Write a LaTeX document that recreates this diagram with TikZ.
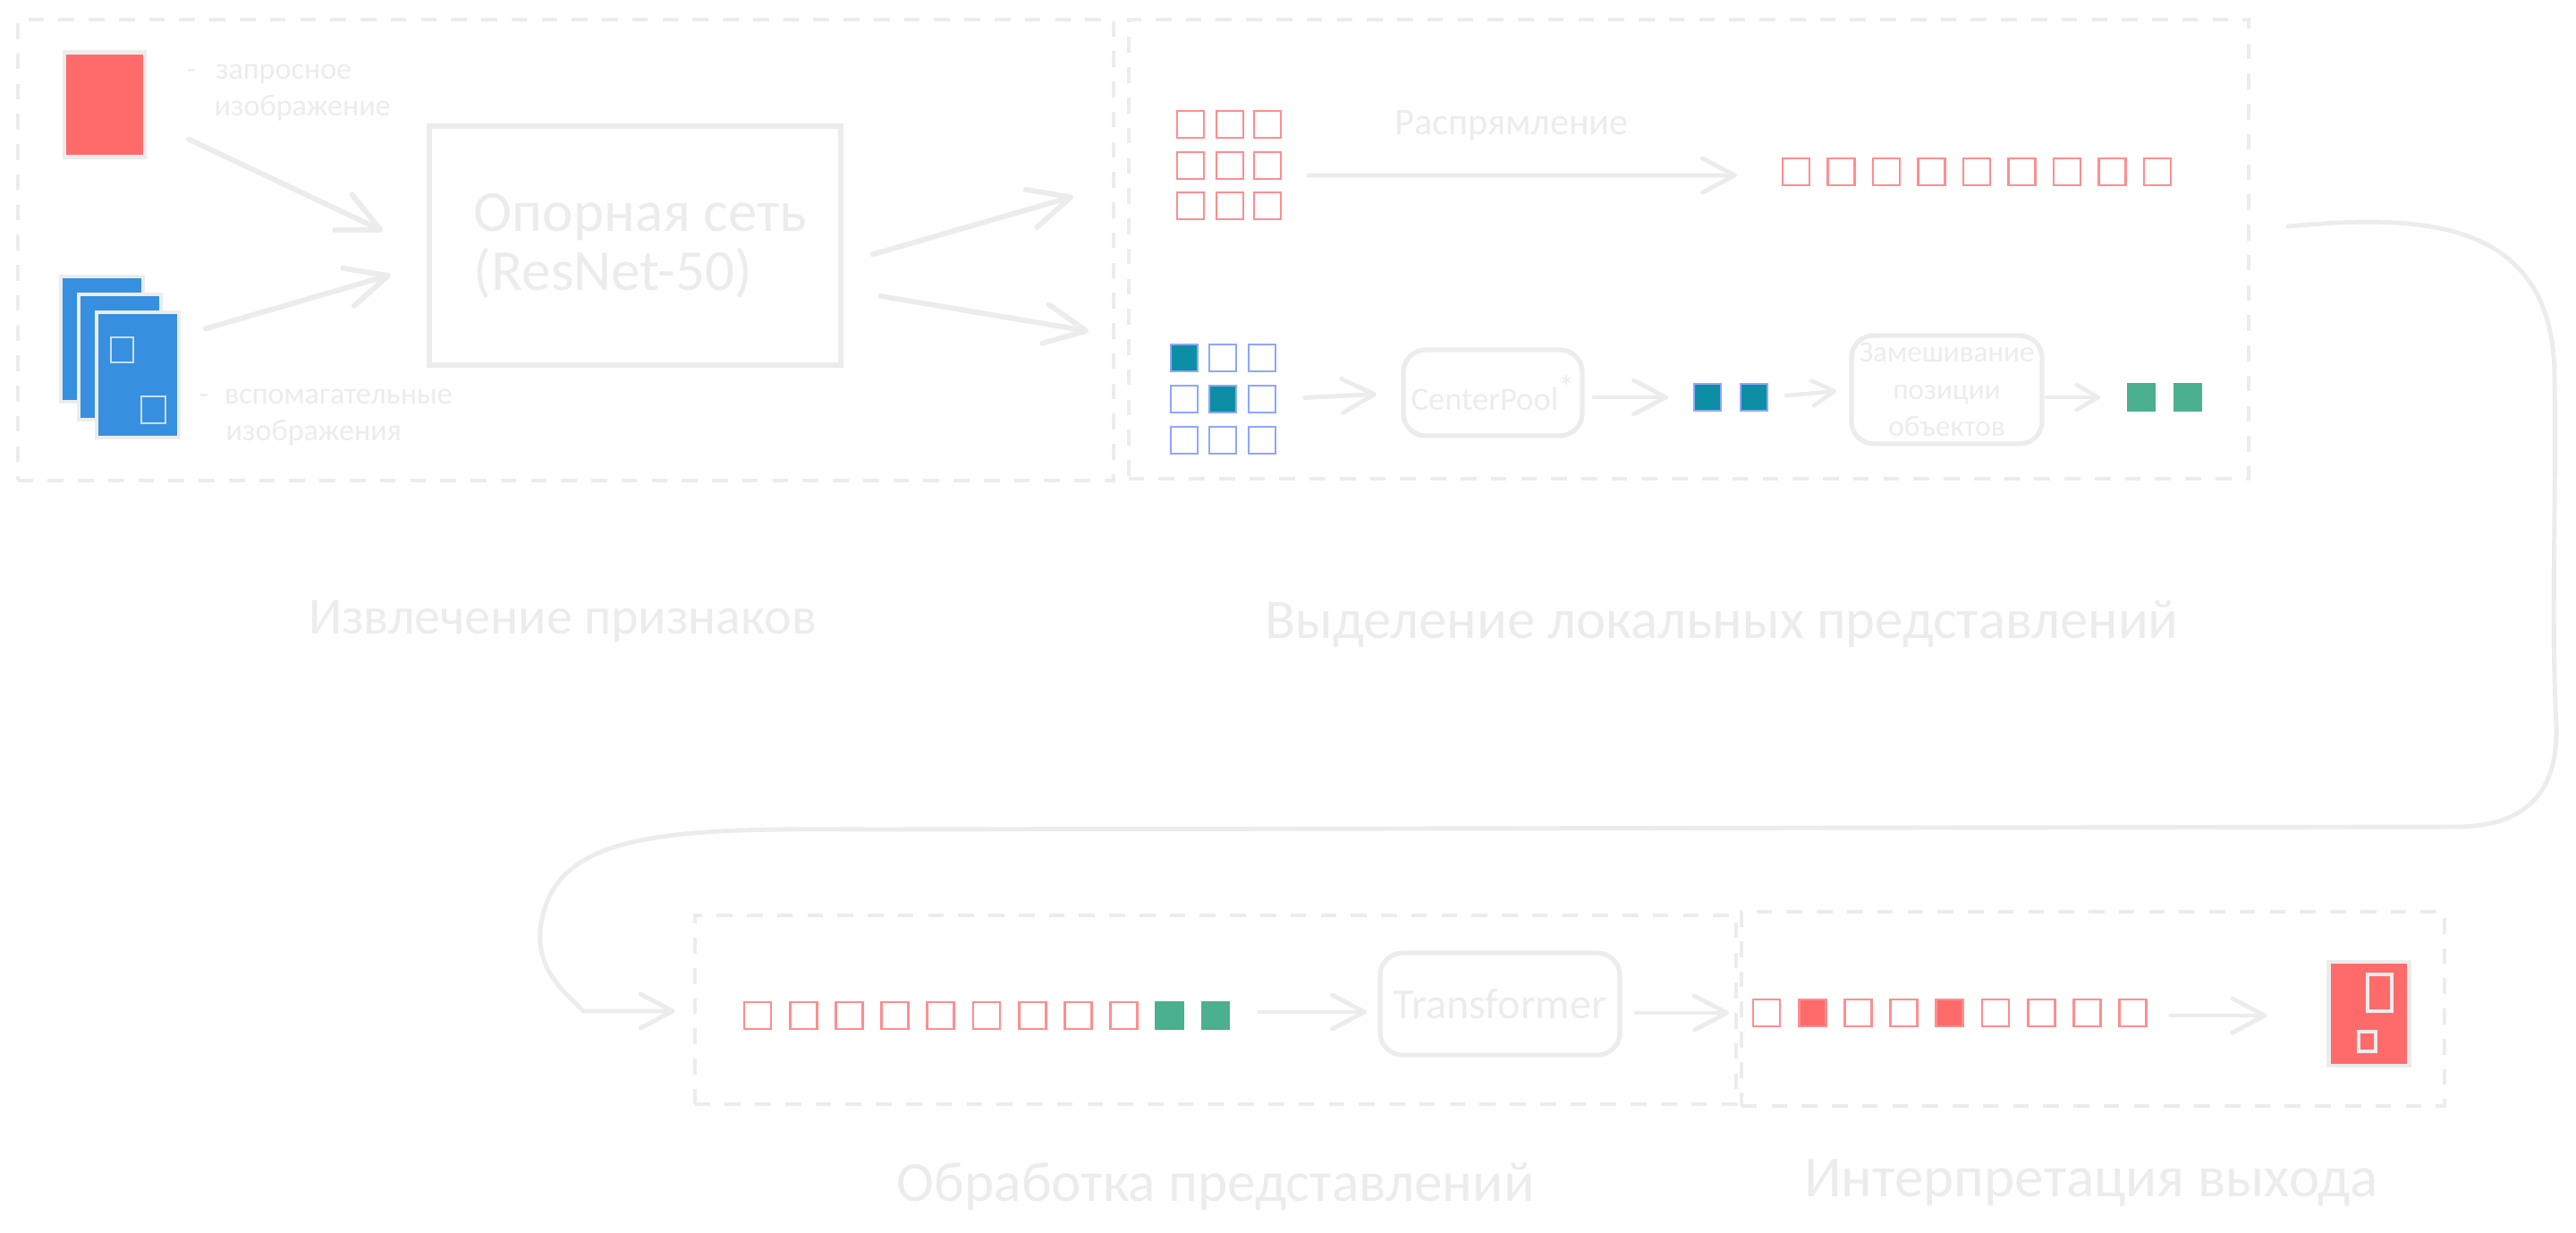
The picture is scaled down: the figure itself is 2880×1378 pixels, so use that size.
\documentclass[tikz,border=0pt]{standalone}
\usepackage{fontspec}
\setmainfont{Carlito}
\usepackage{tikz}
\usetikzlibrary{arrows.meta,calc,positioning}
\definecolor{sketch}{HTML}{ECECEC}
\definecolor{coralfill}{HTML}{FF6B6B}
\definecolor{coralline}{HTML}{FF8E8E}
\definecolor{skyfill}{HTML}{378FDF}
\definecolor{periline}{HTML}{8FA6FF}
\definecolor{tealfill}{HTML}{0C8FA5}
\definecolor{jade}{HTML}{4AB08F}
\definecolor{glass}{HTML}{C9DDF2}
\tikzset{
  stagebox/.style={draw=sketch, line width=1.1pt, dash pattern=on 5pt off 4.6pt,
    inner sep=0pt, outer sep=0pt},
  flowbox/.style={draw=sketch, line width=1.5pt, rounded corners=2.5mm, text=sketch,
    align=center, inner sep=0pt, outer sep=0pt},
  imagebox/.style={draw=sketch, line width=1.2pt, inner sep=0pt, outer sep=0pt},
  querybox/.style={imagebox, fill=coralfill, minimum width=9mm, minimum height=11.7mm},
  cardbox/.style={imagebox, fill=skyfill, minimum width=9.2mm, minimum height=14mm},
  cellbox/.style={line width=0.8pt, inner sep=0pt, outer sep=0pt,
    minimum width=3mm, minimum height=3mm},
  patchcell/.style={cellbox, draw=coralline},
  hitcell/.style={cellbox, draw=coralline, fill=coralfill},
  kernelcell/.style={cellbox, draw=periline},
  centercell/.style={cellbox, draw=periline, fill=tealfill},
  jadecell/.style={cellbox, draw=jade, fill=jade},
  flowarrow/.style={-{Straight Barb[length=3.6mm, width=3.8mm, round]}, draw=sketch,
    line width=1.4pt, line cap=round},
  bigarrow/.style={-{Straight Barb[length=4.6mm, width=4.4mm, round]}, draw=sketch,
    line width=1.7pt, line cap=round},
  smallarrow/.style={-{Straight Barb[length=2.4mm, width=2.8mm, round]}, draw=sketch,
    line width=1.3pt, line cap=round},
  titlenote/.style={text=sketch, inner sep=0pt},
  smallnote/.style={text=sketch, align=left, inner sep=0pt,
    font=\fontsize{9.7}{11.7}\selectfont}
}
\begin{document}
\begin{tikzpicture}[x=0.01cm, y=-0.01cm]
  \useasboundingbox (0,0) rectangle (2880,1378);
  % stages
  \node[stagebox, minimum width=122.5mm, minimum height=51.5mm] (featframe) at (632.5,279.5) {};
  \node[stagebox, minimum width=125.2mm, minimum height=51.3mm] (localframe) at (1888,278.5) {};
  \node[stagebox, minimum width=116.4mm, minimum height=21.1mm] (procframe) at (1359,1128.5) {};
  \node[stagebox, minimum width=78.6mm, minimum height=21.7mm] (interpframe) at (2340,1127.5) {};
  \node[titlenote, font=\fontsize{16.5}{20}\selectfont] (feattitle) at (629,695) {Извлечение признаков};
  \node[titlenote, font=\fontsize{17.8}{20}\selectfont] (localtitle) at (1925,697) {Выделение локальных представлений};
  \node[titlenote, font=\fontsize{18}{20}\selectfont] (proctitle) at (1359,1326) {Обработка представлений};
  \node[titlenote, font=\fontsize{18.5}{20}\selectfont] (interptitle) at (2338,1322) {Интерпретация выхода};

  % input images and backbone
  \node[querybox] (query) at (117,117) {};
  \node[cardbox] (carda) at (114,379) {};
  \node[cardbox] (cardb) at (134,399) {};
  \node[cardbox] (cardc) at (154,419) {};
  \node[draw=glass, line width=0.7pt, minimum width=2.5mm, minimum height=2.8mm, inner sep=0pt]
    (cardboxa) at (136.5,391) {};
  \node[draw=glass, line width=0.7pt, minimum width=2.7mm, minimum height=3mm, inner sep=0pt]
    (cardboxb) at (171.5,458) {};
  \node[smallnote, anchor=north west] (querynote) at (208,71) {-\hspace{2.2mm}запросное\\\hspace{3.1mm}изображение};
  \node[smallnote, anchor=north west] (auxnote) at (222,434) {-\hspace{1.8mm}вспомагательные\\\hspace{3mm}изображения};
  \node[flowbox, rounded corners=0pt, minimum width=46mm, minimum height=26.7mm, align=left,
    line width=1.6pt, font=\fontsize{18.5}{18.8}\selectfont] (backbone) at (710,274.5) {\hspace{1.2mm}Опорная сеть\\\hspace{1.2mm}(ResNet-50)};
  \draw[bigarrow, shorten <=5.4mm, shorten >=5.7mm] (query.-19.6) -- (backbone.182);
  \draw[bigarrow, shorten <=3.1mm, shorten >=4.5mm] (cardc.43.5) -- (backbone.185.8);
  \draw[bigarrow, shorten <=3.7mm, shorten >=6.4mm] (backbone.-5) -- (localframe.173.44);
  \draw[bigarrow, shorten <=4.5mm, shorten >=4.5mm] (backbone.-12.2) -- (localframe.189.7);

  % flatten branch
  \foreach \row/\y in {1/139,2/185,3/230}
    \foreach \col/\x in {1/1331,2/1375,3/1417}
      \node[patchcell] (patch-\row-\col) at (\x,\y) {};
  \foreach \i in {1,...,9}
    \node[patchcell] (flat-\i) at ({2008+50.5*(\i-1)},192) {};
  \node[text=sketch, font=\fontsize{12}{15}\selectfont, inner sep=0pt] (flatnote) at (1690,140) {Распрямление};
  \draw[flowarrow, shorten <=3.1mm, shorten >=5.1mm] ([yshift=-1.1mm]patch-2-3.east) -- ([yshift=-0.4mm]flat-1.west);

  % center branch
  \foreach \row/\y in {1/400,2/446,3/492}
    \foreach \col/\x in {1/1324,2/1367,3/1411}
      \node[kernelcell] (kernel-\row-\col) at (\x,\y) {};
  \node[centercell] (hita) at (kernel-1-1) {};
  \node[centercell] (hitb) at (kernel-2-2) {};
  \node[flowbox, minimum width=20mm, minimum height=9.6mm,
    font=\fontsize{10.4}{12}\selectfont] (centerpool) at (1669,439) {CenterPool\raisebox{0.35em}{*}};
  \node[centercell] (poola) at (1909,444) {};
  \node[centercell, right=2.2mm of poola] (poolb) {};
  \node[flowbox, minimum width=21.3mm, minimum height=12.1mm,
    font=\fontsize{9.4}{11.7}\selectfont] (mixer) at (2176.5,435.5) {Замешивание\\позиции\\объектов};
  \node[jadecell] (posa) at (2394,444) {};
  \node[jadecell, right=2.2mm of posa] (posb) {};
  \draw[flowarrow, shorten <=3.3mm, shorten >=3mm] (kernel-2-3.east) -- (centerpool.west);
  \draw[flowarrow, shorten <=1.3mm, shorten >=2.9mm] (centerpool.east |- poola.west) -- (poola.west);
  \draw[smallarrow, shorten <=2.1mm, shorten >=1.7mm] (poolb.east) -- (mixer.west);
  \draw[smallarrow, shorten <=0.5mm, shorten >=3.1mm] (mixer.east |- posa.west) -- (posa.west);

  % link between rows
  \coordinate (turna) at (2856,422);
  \coordinate (turnb) at (2745,924);
  \coordinate (turnc) at (974,927);
  \coordinate (turnd) at (652,1130);
  \draw[flowarrow, shorten <=4.4mm, shorten >=2.2mm] ([yshift=2.15mm]localframe.east)
    .. controls (2700,240) and (2856,240) .. (turna)
    .. controls (2858,560) and (2852,700) .. (2858,810)
    .. controls (2860,880) and (2830,924) .. (turnb)
    -- (turnc)
    .. controls (740,925) and (615,930) .. (604,1040)
    .. controls (600,1090) and (640,1115) .. (turnd)
    -- (procframe.west |- turnd);

  % output
  \foreach \i/\look in {1/patchcell,2/hitcell,3/patchcell,4/patchcell,5/hitcell,6/patchcell,7/patchcell,8/patchcell,9/patchcell}
    \node[\look] (out-\i) at ({1975+51.2*(\i-1)},1132) {};
  \node[querybox, minimum height=11.6mm] (result) at (2648.5,1133) {};
  \node[draw=sketch, line width=0.9pt, minimum width=2.7mm, minimum height=4.1mm, inner sep=0pt]
    (resulta) at (2660.5,1109.5) {};
  \node[draw=sketch, line width=0.9pt, minimum width=1.9mm, minimum height=2.2mm, inner sep=0pt]
    (resultb) at (2646.5,1164) {};
  \draw[flowarrow, shorten <=2.7mm, shorten >=6.9mm] ([yshift=-0.3mm]out-9.east) -- ([yshift=-0.3mm]result.west |- out-9.east);

  % processing
  \foreach \i in {1,...,9}
    \node[patchcell] (seq-\i) at ({847+51.2*(\i-1)},1135) {};
  \node[jadecell, right=2.12mm of seq-9] (seqa) {};
  \node[jadecell, right=2.12mm of seqa] (seqb) {};
  \node[flowbox, minimum width=26.8mm, minimum height=11.4mm,
    font=\fontsize{13.7}{15}\selectfont] (transformer) at (1677,1122) {Transformer};
  \draw[flowarrow, shorten <=3.4mm, shorten >=1.5mm] ([yshift=0.4mm]seqb.east) -- ([yshift=0.4mm]transformer.west |- seqb.east);
  \draw[flowarrow, shorten <=1.8mm, shorten >=2.7mm] (transformer.east |- out-1.west) -- (out-1.west);
\end{tikzpicture}
\end{document}
